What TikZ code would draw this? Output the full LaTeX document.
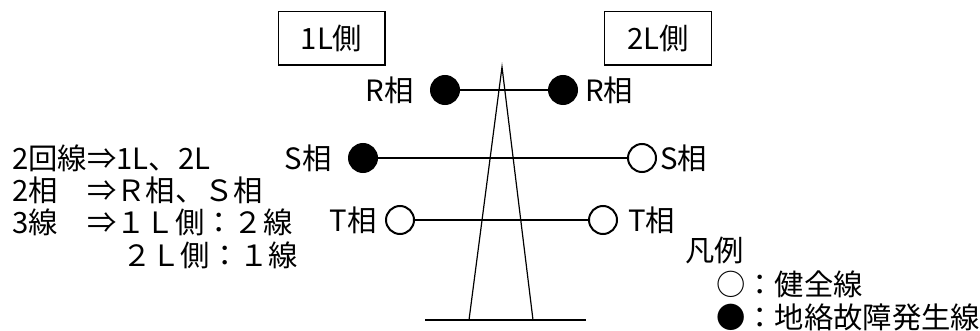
\documentclass[tikz,border=0pt]{standalone}
\usepackage{fontspec}
\setmainfont{Noto Sans CJK JP}
\begin{document}
\begin{tikzpicture}[x=0.75pt,y=-0.75pt,
	every node/.style={font=\fontsize{22}{26}\selectfont,inner sep=0pt},
	fault/.style={circle,draw,fill=black,line width=1.5pt,minimum size=21pt},
	sound/.style={circle,draw,fill=white,line width=1.5pt,minimum size=21pt},
	side/.style={draw,line width=1pt,minimum width=80pt,minimum height=40pt}]
		% Transmission tower with two circuits
		\useasboundingbox (0,0) rectangle (980,331);
		\node[side] (Side1) at (331.5,38.5) {1L側};
		\node[side] (Side2) at (658,38.5) {2L側};

		\coordinate (Top) at (502,67);
		\coordinate (LegL) at (469,320);
		\coordinate (LegR) at (533,320);
		\coordinate (BaseL) at (425,320);
		\coordinate (BaseR) at (586,320);
		\draw[line width=0.9pt] (LegL) -- (Top) -- (LegR);
		\draw[line width=1pt] (BaseL) -- (BaseR);

		\node[fault] (R1) at (445,90) {};
		\node[fault] (R2) at (563,90) {};
		\node[fault] (S1) at (363,158) {};
		\node[sound] (S2) at (642,158) {};
		\node[sound] (T1) at (400,220) {};
		\node[sound] (T2) at (603,220) {};

		\draw[line width=0.9pt] (R1) -- (R2);
		\draw[line width=0.9pt] (S1) -- (S2);
		\draw[line width=0.9pt] (T1) -- (T2);

		\node[anchor=east] (R1Text) at (414,90) {R相};
		\node[anchor=west] (R2Text) at (585,90) {R相};
		\node[anchor=east] (S1Text) at (332,158) {S相};
		\node[anchor=west] (S2Text) at (660,158) {S相};
		\node[anchor=east] (T1Text) at (377,220) {T相};
		\node[anchor=west] (T2Text) at (628,220) {T相};

		\node[anchor=west] (Line1) at (12,158) {2回線⇒1L、2L};
		\node[anchor=west] (Line2) at (12,190) {2相　⇒Ｒ相、Ｓ相};
		\node[anchor=west] (Line3) at (12,222) {3線　⇒１Ｌ側：２線};
		\node[anchor=west] (Line4) at (122,255) {２Ｌ側：１線};

		\node[anchor=west] (Legend) at (685,250) {凡例};
		\node[anchor=west] (LegSound) at (716,284) {○：健全線};
		\node[anchor=west] (LegFault) at (716,317) {●：地絡故障発生線};
\end{tikzpicture}
\end{document}
